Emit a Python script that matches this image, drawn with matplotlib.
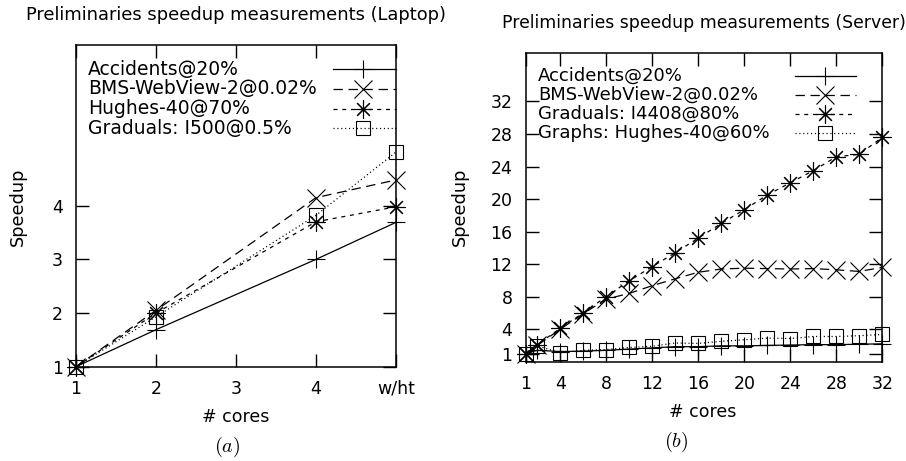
import matplotlib
matplotlib.use("Agg")
import matplotlib.pyplot as plt
from matplotlib.lines import Line2D

plt.rcParams['font.family'] = ['DejaVu Sans']
plt.rcParams['mathtext.fontset'] = 'cm'

# ---------------- data: laptop ----------------
laptop_x = [1, 2, 4, 5]
laptop_ticks = [1, 2, 3, 4, 5]
laptop_ticklabels = ['1', '2', '3', '4', 'w/ht']
laptop_yticks = [1, 2, 3, 4]
laptop_names = ['Accidents@20%', 'BMS-WebView-2@0.02%', 'Hughes-40@70%', 'Graduals: I500@0.5%']
laptop_accidents = [1.0, 1.69, 3.0, 3.69]
laptop_bms = [1.0, 2.05, 4.15, 4.48]
laptop_hughes = [1.0, 2.0, 3.7, 3.98]
laptop_graduals = [1.0, 1.93, 3.82, 5.0]

# ---------------- data: server ----------------
server_x = [1, 2, 4, 6, 8, 10, 12, 14, 16, 18, 20, 22, 24, 26, 28, 30, 32]
server_ticks = [1, 4, 8, 12, 16, 20, 24, 28, 32]
server_yticks = [1, 4, 8, 12, 16, 20, 24, 28, 32]
server_names = ['Accidents@20%', 'BMS-WebView-2@0.02%', 'Graduals: I4408@80%', 'Graphs: Hughes-40@60%']
server_accidents = [1.0, 1.4, 1.25, 1.3, 1.4, 1.55, 1.7, 1.85, 1.85, 1.95, 1.95, 2.0, 2.05, 2.1, 2.1, 2.15, 2.2]
server_bms = [1.0, 2.0, 4.0, 5.9, 7.7, 8.4, 9.35, 10.2, 11.0, 11.4, 11.5, 11.45, 11.4, 11.45, 11.3, 11.1, 11.6]
server_graduals = [1.0, 2.1, 4.1, 6.0, 8.0, 9.95, 11.7, 13.4, 15.2, 17.0, 18.7, 20.5, 22.0, 23.5, 25.2, 25.5, 27.6]
server_graphs = [1.0, 1.95, 1.1, 1.4, 1.5, 1.75, 1.9, 2.3, 2.25, 2.5, 2.7, 2.9, 2.85, 3.1, 3.1, 3.2, 3.35]

# ---------------- styles ----------------
ASTER = (8, 2, 0)
styles = [
    dict(ls='-', marker='+', ms=13),
    dict(ls=(0, (7.5, 4.5)), marker='x', ms=13.5),
    dict(ls=(0, (3.2, 3.8)), marker=ASTER, ms=13),
    dict(ls=(0, (0.9, 2.2)), marker='s', ms=10.5, fillstyle='none'),
]
common = dict(color='black', lw=0.9, mew=0.8, mec='black')

fig = plt.figure(figsize=(9.06, 4.61), dpi=100)

axL = fig.add_axes([76/906, 1-366.7/461, 320/906, 322/461])
axR = fig.add_axes([525.7/906, 1-361.7/461, 356.6/906, 309/461])


def style_axes(ax, fs):
    ax.tick_params(direction='in', length=9.4, width=1.0, top=True, right=True,
                   labelsize=fs, pad=9.5, colors='black')
    for s in ax.spines.values():
        s.set_linewidth(1.1)


def draw_key(ax, row, label, st, x0, x1, xm, ytop, dy, tx, fs):
    y = ytop - row * dy
    ax.add_line(Line2D([x0, x1], [y, y], transform=ax.transAxes, ls=st['ls'],
                       color='black', lw=0.9, clip_on=False))
    ax.add_line(Line2D([xm], [y], transform=ax.transAxes, ls='none', marker=st['marker'],
                       ms=st['ms'], mew=0.8, mec='black', mfc='none', clip_on=False))
    ax.text(tx, y, label, transform=ax.transAxes, ha='left', va='center', fontsize=fs)


# ---------------- left panel ----------------
for ys, st in zip([laptop_accidents, laptop_bms, laptop_hughes, laptop_graduals], styles):
    axL.plot(laptop_x, ys, ls=st['ls'], marker=st['marker'], ms=st['ms'],
             mfc='none', clip_on=False, **common)
axL.set_xlim(1, 5)
axL.set_ylim(1, 7)
axL.set_xticks(laptop_ticks)
axL.set_xticklabels(laptop_ticklabels)
axL.set_yticks(laptop_yticks)
style_axes(axL, 12.5)
axL.set_xlabel('# cores', fontsize=12.5)
axL.xaxis.set_label_coords(0.5, -0.156)
axL.xaxis.label.set_va('center')
axL.set_ylabel('Speedup', fontsize=12.8)
axL.yaxis.set_label_coords(-0.183, 0.496)
axL.yaxis.label.set_va('center')
axL.set_title('Preliminaries speedup measurements (Laptop)', fontsize=12.9, y=1.092, va='center', pad=0)
for i, (name, st) in enumerate(zip(laptop_names, styles)):
    draw_key(axL, i, name, st, 0.803, 1.0, 0.898, 0.9245, 0.0615, 0.0375, 13.5)

# ---------------- right panel ----------------
for ys, st in zip([server_accidents, server_bms, server_graduals, server_graphs], styles):
    axR.plot(server_x, ys, ls=st['ls'], marker=st['marker'], ms=st['ms'],
             mfc='none', clip_on=False, **common)
axR.set_xlim(1, 32)
axR.set_ylim(0, 38)
axR.set_xticks(server_ticks)
axR.set_yticks(server_yticks)
style_axes(axR, 12.5)
axR.set_xlabel('# cores', fontsize=12.5)
axR.xaxis.set_label_coords(0.497, -0.163)
axR.xaxis.label.set_va('center')
axR.set_ylabel('Speedup', fontsize=12.8)
axR.yaxis.set_label_coords(-0.184, 0.50)
axR.yaxis.label.set_va('center')
axR.set_title('Preliminaries speedup measurements (Server)', fontsize=12.4, y=1.096, va='center', pad=0)
for i, (name, st) in enumerate(zip(server_names, styles)):
    draw_key(axR, i, name, st, 0.755, 0.926, 0.839, 0.9256, 0.0617, 0.0345, 13.0)

# captions
fig.text(227/906, 1-447/461, r'$(a)$', ha='center', va='center', fontsize=14.5)
fig.text(676/906, 1-442/461, r'$(b)$', ha='center', va='center', fontsize=14.5)

fig.savefig('out.png', dpi=100)
